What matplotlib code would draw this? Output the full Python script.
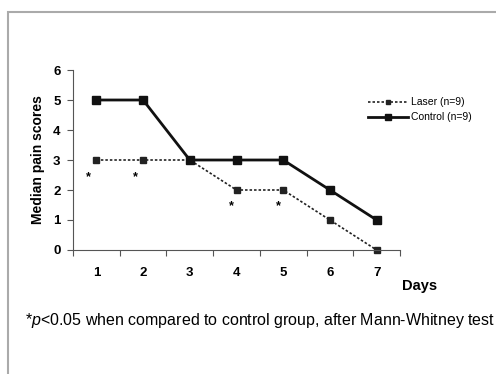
import matplotlib
matplotlib.use("Agg")
import matplotlib.pyplot as plt
from matplotlib.patches import Rectangle

plt.rcParams['font.family'] = ['Liberation Sans', 'DejaVu Sans']
plt.rcParams['mathtext.fontset'] = 'custom'
plt.rcParams['mathtext.it'] = 'Liberation Sans:italic'
plt.rcParams['mathtext.rm'] = 'Liberation Sans'

# median pain scores per day
days = [1, 2, 3, 4, 5, 6, 7]
laser = [3, 3, 3, 2, 2, 1, 0]
control = [5, 5, 3, 3, 3, 2, 1]

# significance asterisks
star_x = [0.83, 1.83, 3.9, 4.9]
star_y = [2.43, 2.43, 1.47, 1.47]

fig = plt.figure(figsize=(4.96, 3.74), dpi=100)
fig.patch.set_facecolor("white")

# grey frame round the figure
frame = Rectangle((8 / 496, -0.1), 1.2, 1 - 12 / 374 + 0.1, transform=fig.transFigure,
                  fill=False, edgecolor="#aaaaaa", linewidth=1.5)
fig.patches.append(frame)

ax = fig.add_axes([73 / 496, 1 - 250 / 374, 327 / 496, 180 / 374])

ax.plot(days, laser, color="#222222", linestyle=(0, (1.5, 1.2)), linewidth=1.2,
        marker="s", markersize=5, label="Laser (n=9)", clip_on=False)
ax.plot(days, control, color="#111111", linestyle="-", linewidth=2,
        marker="s", markersize=5.5, label="Control (n=9)", clip_on=False)

for x, y in zip(star_x, star_y):
    ax.text(x, y, "*", ha="center", va="center", fontsize=9, fontweight="bold")

ax.set_xlim(0.5, 7.5)
ax.set_ylim(0, 6)
ax.set_yticks(range(0, 7))
ax.set_xticks([d + 0.5 for d in range(0, 8)])
ax.set_xticklabels([])
ax.tick_params(axis="x", direction="out", length=4, color="#555555")
ax.tick_params(axis="y", direction="out", length=4, color="#555555", labelsize=9.5, pad=5)
for lbl in ax.get_yticklabels():
    lbl.set_fontweight("bold")

# day labels under the categories
for d in days:
    ax.text(d, -0.75, str(d), ha="center", va="center", fontsize=9.5, fontweight="bold")

for side in ["top", "right"]:
    ax.spines[side].set_visible(False)
ax.spines["left"].set_color("#555555")
ax.spines["bottom"].set_color("#555555")

ax.set_ylabel("Median pain scores", fontsize=10, fontweight="bold", labelpad=6)
fig.text(420 / 496, 1 - 286 / 374, "Days", ha="center", va="center",
         fontsize=10.5, fontweight="bold")

ax.legend(loc="upper left", bbox_to_anchor=(364 / 496, 1 - 93 / 374),
          bbox_transform=fig.transFigure, frameon=False, fontsize=7.5,
          handlelength=3.8, handletextpad=0.3, borderaxespad=0, labelspacing=0.5,
          markerscale=0.7)

fig.text(25 / 496, 1 - 321 / 374,
         "*$p$<0.05 when compared to control group, after Mann-Whitney test",
         ha="left", va="center", fontsize=11.5)

fig.savefig("out.png", dpi=100)
